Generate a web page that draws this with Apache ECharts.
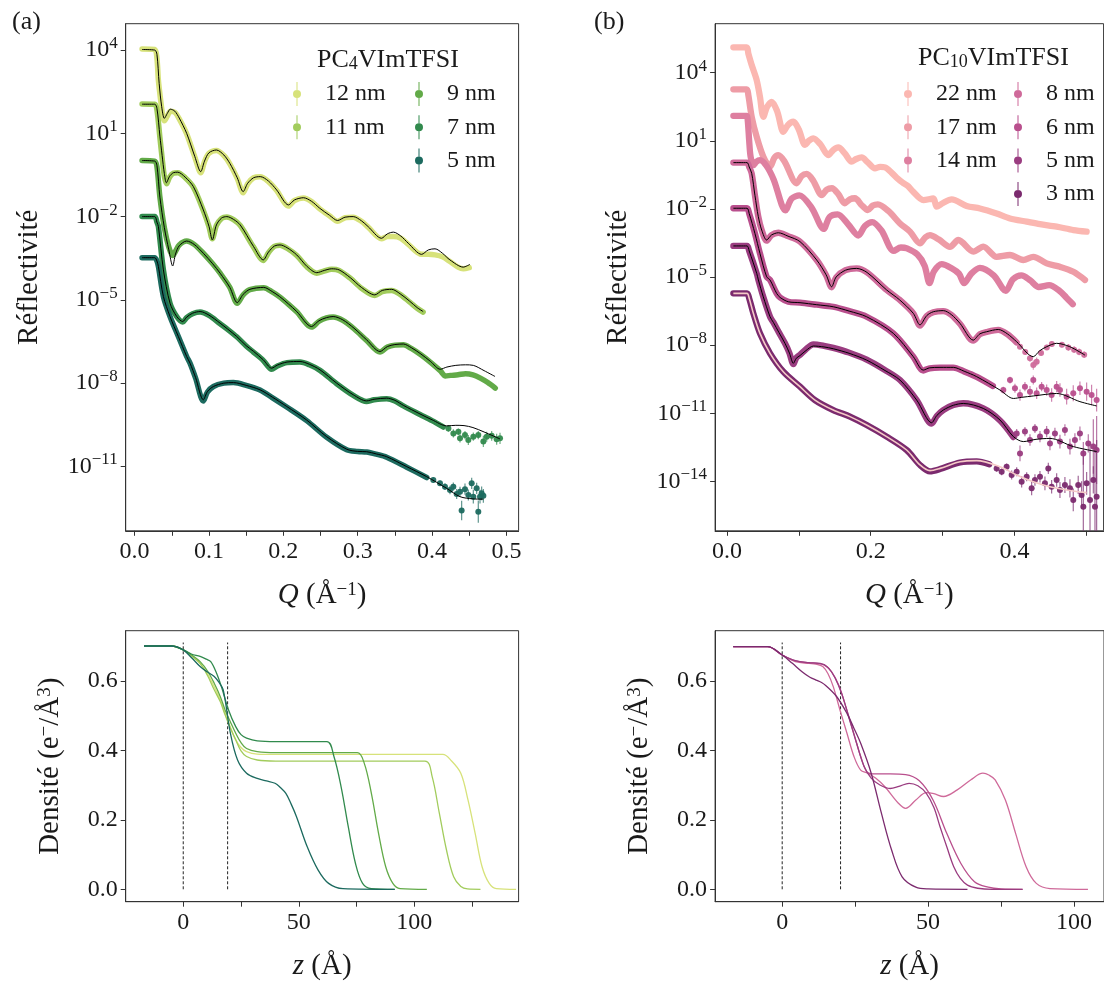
<!DOCTYPE html>
<html><head><meta charset="utf-8">
<script src="https://cdn.jsdelivr.net/npm/echarts@6/dist/echarts.min.js"></script>
<style>html,body{margin:0;padding:0;background:#fff}#c{width:1104px;height:987px}</style>
</head><body><div id="c"></div>
<script>
// ---------- tick labels ----------
const qTicksA = [0,0.05,0.1,0.15,0.2,0.25,0.3,0.35,0.4,0.45,0.5];
const qLabelsA = [0,0.1,0.2,0.3,0.4,0.5];
const qTicksB = [0,0.1,0.2,0.3,0.4,0.5];
const qLabelsB = [0,0.2,0.4];
const rExpA = [-11,-8,-5,-2,1,4];
const rExpB = [-14,-11,-8,-5,-2,1,4];
const zTicks = [0,25,50,75,100,125];
const zLabels = [0,50,100];
const rhoTicks = [0,0.2,0.4,0.6];

// ---------- panel (a) reflectivity : [Q, log10 R] ----------
const a12Data = [[0.010,4.04],[0.027,4.02],[0.030,3.7],[0.032,2.9],[0.035,2.2],[0.038,1.6],[0.040,1.45],[0.044,1.62],[0.048,1.80],[0.054,1.76],[0.060,1.52],[0.070,0.98],[0.081,0.14],[0.089,-0.42],[0.094,-0.02],[0.100,0.28],[0.110,0.38],[0.120,0.20],[0.128,-0.10],[0.138,-0.62],[0.146,-1.14],[0.152,-0.82],[0.160,-0.60],[0.169,-0.56],[0.180,-0.74],[0.191,-1.06],[0.207,-1.62],[0.215,-1.42],[0.227,-1.33],[0.238,-1.46],[0.249,-1.72],[0.262,-1.97],[0.273,-2.17],[0.283,-2.04],[0.294,-2.02],[0.305,-2.17],[0.314,-2.38],[0.332,-2.80],[0.340,-2.72],[0.348,-2.72],[0.358,-2.78],[0.368,-3.00],[0.386,-3.36],[0.395,-3.36],[0.404,-3.38],[0.414,-3.45],[0.424,-3.62],[0.435,-3.82],[0.442,-3.88],[0.450,-3.84]];
const a12Fit = [[0.010,4.02],[0.027,4.00],[0.030,3.85],[0.033,2.80],[0.0364,1.96],[0.040,1.54],[0.044,1.72],[0.048,1.87],[0.054,1.80],[0.060,1.55],[0.070,1.00],[0.081,0.16],[0.0889,-0.38],[0.094,0.00],[0.100,0.30],[0.110,0.40],[0.120,0.22],[0.128,-0.08],[0.138,-0.60],[0.146,-1.10],[0.152,-0.80],[0.160,-0.60],[0.169,-0.56],[0.180,-0.72],[0.191,-1.04],[0.207,-1.58],[0.215,-1.40],[0.227,-1.32],[0.238,-1.45],[0.249,-1.70],[0.262,-1.95],[0.273,-2.14],[0.283,-2.02],[0.294,-2.00],[0.305,-2.15],[0.314,-2.36],[0.332,-2.78],[0.340,-2.62],[0.348,-2.56],[0.358,-2.70],[0.368,-2.96],[0.386,-3.36],[0.395,-3.20],[0.404,-3.16],[0.414,-3.32],[0.424,-3.56],[0.442,-3.82],[0.451,-3.72]];
const a11Data = [[0.010,2.06],[0.027,2.05],[0.030,1.85],[0.034,0.85],[0.037,0.10],[0.040,-0.55],[0.043,-0.82],[0.047,-0.58],[0.052,-0.44],[0.058,-0.42],[0.068,-0.60],[0.079,-0.94],[0.0924,-1.78],[0.100,-2.36],[0.1045,-2.80],[0.110,-2.32],[0.117,-2.06],[0.124,-2.01],[0.133,-2.11],[0.142,-2.32],[0.160,-3.10],[0.173,-3.58],[0.180,-3.30],[0.188,-3.07],[0.1955,-3.03],[0.205,-3.14],[0.218,-3.40],[0.232,-3.82],[0.245,-4.04],[0.255,-3.96],[0.265,-3.90],[0.275,-3.94],[0.290,-4.22],[0.305,-4.58],[0.323,-4.84],[0.333,-4.70],[0.3457,-4.66],[0.357,-4.80],[0.370,-5.08],[0.380,-5.30],[0.388,-5.44]];
const a11Fit = [[0.010,2.05],[0.027,2.05],[0.030,1.90],[0.034,0.90],[0.037,0.20],[0.040,-0.45],[0.0427,-0.78],[0.047,-0.55],[0.052,-0.42],[0.058,-0.40],[0.068,-0.58],[0.079,-0.92],[0.0924,-1.76],[0.100,-2.35],[0.1045,-2.84],[0.110,-2.30],[0.117,-2.05],[0.124,-2.00],[0.133,-2.10],[0.142,-2.30],[0.160,-3.08],[0.173,-3.56],[0.180,-3.28],[0.188,-3.06],[0.1955,-3.02],[0.205,-3.12],[0.218,-3.38],[0.232,-3.80],[0.245,-4.02],[0.255,-3.94],[0.265,-3.88],[0.275,-3.92],[0.290,-4.20],[0.305,-4.55],[0.323,-4.82],[0.333,-4.66],[0.3457,-4.62],[0.357,-4.78],[0.370,-5.05],[0.380,-5.28],[0.388,-5.42]];
const a9Data = [[0.010,0.02],[0.027,0.00],[0.030,-0.20],[0.034,-1.30],[0.040,-2.40],[0.046,-3.10],[0.0512,-3.40],[0.055,-3.25],[0.060,-3.02],[0.070,-2.88],[0.080,-3.00],[0.0924,-3.32],[0.105,-3.70],[0.115,-4.04],[0.128,-4.55],[0.138,-5.12],[0.146,-4.82],[0.155,-4.63],[0.1736,-4.56],[0.185,-4.71],[0.195,-4.89],[0.207,-5.16],[0.218,-5.43],[0.238,-5.98],[0.248,-5.77],[0.258,-5.65],[0.267,-5.62],[0.280,-5.74],[0.295,-6.04],[0.312,-6.46],[0.330,-6.88],[0.340,-6.70],[0.350,-6.63],[0.3614,-6.62],[0.372,-6.75],[0.385,-6.98],[0.398,-7.25],[0.411,-7.55],[0.418,-7.74],[0.425,-7.72],[0.435,-7.70],[0.445,-7.66],[0.455,-7.70],[0.465,-7.82],[0.475,-7.98],[0.485,-8.18]];
const a9Fit = [[0.010,0.02],[0.027,0.00],[0.030,-0.15],[0.034,-1.30],[0.040,-2.40],[0.046,-3.20],[0.0512,-3.78],[0.055,-3.35],[0.060,-3.05],[0.070,-2.88],[0.080,-3.00],[0.0924,-3.32],[0.105,-3.70],[0.115,-4.04],[0.128,-4.55],[0.138,-5.10],[0.146,-4.80],[0.155,-4.62],[0.1736,-4.55],[0.185,-4.70],[0.195,-4.88],[0.207,-5.15],[0.218,-5.42],[0.238,-5.96],[0.248,-5.75],[0.258,-5.64],[0.267,-5.60],[0.280,-5.72],[0.295,-6.02],[0.312,-6.44],[0.330,-6.86],[0.340,-6.68],[0.350,-6.61],[0.3614,-6.59],[0.372,-6.72],[0.385,-6.95],[0.398,-7.22],[0.411,-7.50],[0.420,-7.42],[0.432,-7.36],[0.445,-7.34],[0.4555,-7.36],[0.470,-7.55],[0.4847,-7.76]];
const a7Data = [[0.010,-2.00],[0.027,-2.00],[0.030,-2.20],[0.032,-2.36],[0.0387,-3.92],[0.0476,-5.12],[0.0566,-5.60],[0.0647,-5.80],[0.070,-5.64],[0.078,-5.50],[0.088,-5.44],[0.100,-5.56],[0.115,-5.86],[0.125,-6.06],[0.1373,-6.33],[0.150,-6.66],[0.1597,-6.88],[0.173,-7.18],[0.1843,-7.50],[0.192,-7.38],[0.205,-7.26],[0.2224,-7.24],[0.235,-7.34],[0.2493,-7.54],[0.2717,-8.02],[0.2941,-8.44],[0.312,-8.66],[0.322,-8.60],[0.339,-8.56],[0.350,-8.64],[0.3614,-8.82],[0.3838,-9.13],[0.400,-9.35],[0.415,-9.58]];
const a7Fit = [[0.010,-2.00],[0.027,-2.00],[0.030,-2.20],[0.032,-2.36],[0.0387,-3.92],[0.0476,-5.12],[0.0566,-5.60],[0.0647,-5.78],[0.070,-5.62],[0.078,-5.48],[0.088,-5.42],[0.100,-5.55],[0.115,-5.84],[0.125,-6.05],[0.1373,-6.32],[0.150,-6.65],[0.1597,-6.85],[0.173,-7.16],[0.1843,-7.46],[0.192,-7.35],[0.205,-7.24],[0.2224,-7.22],[0.235,-7.32],[0.2493,-7.52],[0.2717,-8.00],[0.2941,-8.42],[0.312,-8.64],[0.322,-8.58],[0.339,-8.54],[0.350,-8.62],[0.3614,-8.80],[0.3838,-9.11],[0.400,-9.32],[0.4197,-9.54],[0.432,-9.52],[0.443,-9.53],[0.455,-9.60],[0.470,-9.76],[0.4914,-10.01]];
const a7Noise = [[0.422,-9.63,0.12],[0.4287,-9.81,0.15],[0.4354,-9.75,0.12],[0.4376,-9.99,0.15],[0.4443,-9.87,0.15],[0.4488,-10.05,0.18],[0.4555,-9.93,0.15],[0.4622,-9.87,0.15],[0.469,-10.10,0.2],[0.4735,-9.93,0.18],[0.4802,-9.90,0.18],[0.4869,-10.02,0.2],[0.4914,-9.99,0.2]];
const a5Data = [[0.010,-3.48],[0.027,-3.48],[0.030,-3.60],[0.032,-3.80],[0.0387,-4.88],[0.0476,-5.60],[0.0588,-6.32],[0.070,-7.04],[0.0745,-7.28],[0.082,-7.82],[0.0924,-8.64],[0.098,-8.32],[0.106,-8.12],[0.120,-8.00],[0.1328,-7.98],[0.150,-8.08],[0.1686,-8.25],[0.185,-8.52],[0.2045,-8.86],[0.2314,-9.35],[0.2583,-9.95],[0.2852,-10.40],[0.300,-10.46],[0.312,-10.48],[0.325,-10.56],[0.339,-10.67],[0.366,-11.03],[0.3928,-11.40]];
const a5Fit = [[0.010,-3.48],[0.027,-3.48],[0.030,-3.60],[0.032,-3.80],[0.0387,-4.88],[0.0476,-5.60],[0.0588,-6.32],[0.070,-7.04],[0.0745,-7.28],[0.082,-7.80],[0.0924,-8.60],[0.098,-8.30],[0.106,-8.12],[0.120,-8.00],[0.1328,-7.98],[0.150,-8.08],[0.1686,-8.24],[0.185,-8.50],[0.2045,-8.84],[0.2314,-9.33],[0.2583,-9.93],[0.2852,-10.38],[0.300,-10.46],[0.312,-10.47],[0.325,-10.55],[0.339,-10.65],[0.366,-11.01],[0.3928,-11.37],[0.4197,-11.79],[0.4376,-12.09],[0.455,-12.17],[0.469,-12.18]];
const a5Noise = [[0.4017,-11.49,0.1],[0.4107,-11.61,0.1],[0.4174,-11.73,0.12],[0.4241,-11.85,0.15],[0.4286,-11.73,0.15],[0.4331,-11.99,0.18],[0.4376,-11.91,0.18],[0.4398,-12.59,0.35],[0.4443,-11.82,0.2],[0.4488,-12.03,0.2],[0.4533,-11.61,0.2],[0.4555,-12.09,0.25],[0.4600,-11.79,0.2],[0.4622,-12.63,0.4],[0.4645,-12.09,0.25],[0.4667,-11.97,0.25],[0.469,-12.06,0.25]];

// ---------- panel (b) reflectivity ----------
const b22Data = [[0.009,5.12],[0.0275,5.12],[0.0298,4.85],[0.0345,4.34],[0.0414,3.68],[0.046,2.94],[0.0507,2.06],[0.056,2.50],[0.0623,2.72],[0.070,2.30],[0.0786,1.40],[0.085,1.70],[0.0924,1.84],[0.100,1.50],[0.1087,0.82],[0.114,1.00],[0.1202,1.11],[0.130,0.85],[0.1411,0.37],[0.148,0.60],[0.155,0.71],[0.164,0.45],[0.1735,0.08],[0.180,0.20],[0.1874,0.27],[0.196,0.05],[0.206,-0.21],[0.213,-0.15],[0.220,-0.17],[0.229,-0.40],[0.238,-0.68],[0.245,-0.85],[0.252,-1.00],[0.259,-1.24],[0.2732,-1.61],[0.2872,-1.54],[0.2918,-1.90],[0.300,-1.75],[0.3127,-1.58],[0.3335,-1.87],[0.352,-1.98],[0.3752,-2.20],[0.3938,-2.42],[0.417,-2.56],[0.4355,-2.67],[0.4587,-2.78],[0.482,-2.93],[0.5004,-3.00]];
const b17Data = [[0.009,3.27],[0.0275,3.27],[0.0298,3.02],[0.0345,2.06],[0.0414,1.18],[0.0507,0.30],[0.060,-0.14],[0.066,0.25],[0.0715,0.37],[0.080,0.10],[0.097,-0.87],[0.104,-0.55],[0.111,-0.46],[0.120,-0.75],[0.132,-1.39],[0.139,-1.15],[0.146,-1.09],[0.155,-1.35],[0.164,-1.75],[0.171,-1.58],[0.178,-1.53],[0.188,-1.85],[0.196,-2.05],[0.203,-1.85],[0.210,-1.80],[0.225,-2.10],[0.2408,-2.64],[0.2547,-3.00],[0.2686,-3.52],[0.276,-3.25],[0.2825,-3.15],[0.295,-3.35],[0.3103,-3.67],[0.322,-3.37],[0.3428,-3.88],[0.3567,-3.66],[0.3752,-4.11],[0.3938,-4.03],[0.4123,-4.25],[0.4262,-4.11],[0.4448,-4.40],[0.4633,-4.55],[0.482,-4.77],[0.4981,-5.13]];
const b14Data = [[0.009,2.10],[0.0275,2.10],[0.029,1.90],[0.031,1.00],[0.033,0.30],[0.037,-0.07],[0.041,0.08],[0.046,0.15],[0.055,-0.10],[0.065,-0.70],[0.0815,-2.06],[0.090,-1.55],[0.1008,-1.40],[0.118,-1.95],[0.1346,-2.88],[0.143,-2.35],[0.154,-2.24],[0.168,-2.65],[0.183,-3.17],[0.192,-2.75],[0.2022,-2.58],[0.215,-2.95],[0.232,-3.85],[0.242,-3.70],[0.2505,-3.74],[0.265,-4.01],[0.275,-4.50],[0.2818,-5.27],[0.288,-4.75],[0.2988,-4.43],[0.312,-4.60],[0.3228,-4.85],[0.330,-5.27],[0.340,-4.85],[0.3519,-4.60],[0.3711,-4.93],[0.388,-5.61],[0.398,-5.10],[0.4097,-4.93],[0.422,-5.15],[0.4338,-5.44],[0.4483,-5.36],[0.4627,-5.61],[0.472,-5.90],[0.4812,-6.20]];
const b8Data = [[0.009,0.04],[0.028,0.04],[0.031,-0.15],[0.0345,-0.43],[0.039,-1.40],[0.0437,-2.34],[0.0484,-2.93],[0.0553,-3.40],[0.062,-3.15],[0.0716,-3.05],[0.085,-3.20],[0.1017,-3.44],[0.1249,-4.25],[0.138,-4.92],[0.1457,-5.45],[0.152,-5.02],[0.165,-4.70],[0.1805,-4.62],[0.195,-4.80],[0.2222,-5.57],[0.240,-6.00],[0.2593,-6.60],[0.2686,-7.14],[0.278,-6.72],[0.2871,-6.55],[0.301,-6.50],[0.312,-6.66],[0.3242,-7.06],[0.3427,-7.80],[0.352,-7.52],[0.3613,-7.42],[0.3775,-7.33],[0.390,-7.52],[0.403,-7.88]];
const b8Fit = [[0.009,0.04],[0.028,0.04],[0.031,-0.15],[0.0345,-0.43],[0.039,-1.40],[0.0437,-2.34],[0.0484,-2.93],[0.0553,-3.37],[0.062,-3.15],[0.0716,-3.05],[0.085,-3.20],[0.1017,-3.44],[0.1249,-4.25],[0.138,-4.90],[0.1457,-5.43],[0.152,-5.00],[0.165,-4.70],[0.1805,-4.62],[0.195,-4.80],[0.2222,-5.57],[0.240,-6.00],[0.2593,-6.60],[0.2686,-7.11],[0.278,-6.70],[0.2871,-6.53],[0.301,-6.48],[0.312,-6.65],[0.3242,-7.04],[0.3427,-7.78],[0.352,-7.50],[0.3613,-7.41],[0.3775,-7.31],[0.390,-7.50],[0.403,-7.85],[0.4262,-8.51],[0.435,-8.25],[0.4448,-8.07],[0.4587,-7.92],[0.477,-8.07],[0.4981,-8.44]];
const b8Noise = [[0.4077,-8.07,0.1],[0.415,-8.30,0.12],[0.4216,-8.58,0.15],[0.4262,-8.88,0.2],[0.4309,-8.73,0.18],[0.437,-8.35,0.12],[0.445,-8.10,0.12],[0.452,-7.95,0.12],[0.466,-7.98,0.12],[0.475,-8.10,0.15],[0.483,-8.20,0.15],[0.490,-8.30,0.15],[0.497,-8.42,0.15]];
const b6Data = [[0.009,-1.97],[0.028,-1.97],[0.031,-2.20],[0.039,-3.08],[0.046,-3.96],[0.0553,-4.99],[0.060,-5.13],[0.0692,-5.72],[0.074,-5.90],[0.0854,-6.09],[0.1017,-6.13],[0.125,-6.22],[0.148,-6.31],[0.170,-6.50],[0.1944,-6.75],[0.2315,-7.48],[0.2593,-8.51],[0.2732,-9.12],[0.282,-9.02],[0.2964,-8.99],[0.315,-8.99],[0.330,-9.16],[0.3475,-9.40],[0.370,-9.80]];
const b6Fit = [[0.009,-1.97],[0.028,-1.97],[0.031,-2.20],[0.039,-3.08],[0.046,-3.96],[0.0553,-4.99],[0.060,-5.13],[0.0692,-5.72],[0.074,-5.90],[0.0854,-6.09],[0.1017,-6.13],[0.125,-6.22],[0.148,-6.31],[0.170,-6.50],[0.1944,-6.75],[0.2315,-7.48],[0.2593,-8.51],[0.2732,-9.10],[0.282,-9.00],[0.2964,-8.98],[0.315,-8.98],[0.330,-9.15],[0.3475,-9.39],[0.3799,-9.98],[0.3985,-10.35],[0.410,-10.30],[0.4262,-10.24],[0.4587,-10.13],[0.4911,-10.49],[0.5143,-10.68]];
const b6Noise = [[0.3845,-9.98,0.15],[0.3938,-9.54,0.15],[0.4007,-9.90,0.2],[0.4077,-10.20,0.25],[0.4146,-9.83,0.2],[0.4216,-10.05,0.25],[0.4262,-9.54,0.2],[0.4309,-10.12,0.25],[0.4378,-9.83,0.2],[0.4448,-9.98,0.25],[0.4517,-10.20,0.3],[0.4587,-9.83,0.25],[0.4633,-9.98,0.3],[0.4726,-10.27,0.35],[0.4818,-10.12,0.35],[0.4911,-9.90,0.3],[0.5004,-10.05,0.4],[0.5073,-10.20,0.45],[0.5143,-10.42,0.5]];
const b5Data = [[0.009,-3.63],[0.028,-3.63],[0.031,-3.85],[0.0415,-4.84],[0.0438,-5.13],[0.0506,-5.87],[0.060,-6.75],[0.0647,-7.00],[0.0725,-7.45],[0.0808,-7.92],[0.087,-8.35],[0.0925,-8.84],[0.0965,-8.56],[0.1017,-8.43],[0.110,-8.18],[0.1203,-7.97],[0.135,-8.03],[0.148,-8.12],[0.170,-8.33],[0.1944,-8.64],[0.220,-9.10],[0.2408,-9.54],[0.264,-10.42],[0.2848,-11.46],[0.292,-11.12],[0.301,-10.86],[0.315,-10.64],[0.3288,-10.56],[0.3567,-10.79],[0.3799,-11.32],[0.3985,-12.05]];
const b5Fit = [[0.009,-3.63],[0.028,-3.63],[0.031,-3.85],[0.0415,-4.84],[0.0438,-5.13],[0.0506,-5.87],[0.060,-6.75],[0.0647,-7.00],[0.0725,-7.45],[0.0808,-7.92],[0.087,-8.35],[0.0925,-8.80],[0.0965,-8.58],[0.1017,-8.46],[0.110,-8.24],[0.1203,-8.04],[0.135,-8.08],[0.148,-8.16],[0.170,-8.36],[0.1944,-8.66],[0.220,-9.12],[0.2408,-9.54],[0.264,-10.42],[0.2848,-11.42],[0.292,-11.10],[0.301,-10.86],[0.315,-10.65],[0.3288,-10.57],[0.3567,-10.79],[0.3799,-11.30],[0.3985,-12.03],[0.4123,-12.25],[0.430,-12.15],[0.4494,-12.11],[0.4818,-12.47],[0.5143,-12.69]];
const b5Noise = [[0.4031,-11.89,0.2],[0.4077,-12.77,0.35],[0.4146,-11.81,0.2],[0.4216,-12.18,0.25],[0.4285,-11.67,0.2],[0.4355,-12.03,0.25],[0.4448,-11.81,0.25],[0.4494,-12.33,0.3],[0.4563,-11.89,0.25],[0.4633,-12.25,0.3],[0.4702,-11.74,0.25],[0.4772,-12.47,0.35],[0.4841,-12.18,0.3],[0.4911,-11.89,0.3],[0.4958,-12.77,0.5],[0.5027,-12.33,0.4],[0.5097,-12.47,1.2],[0.5143,-12.62,1.5]];
const b3Data = [[0.009,-5.72],[0.028,-5.72],[0.031,-5.94],[0.0368,-6.60],[0.046,-7.48],[0.060,-8.36],[0.0785,-9.17],[0.1017,-9.83],[0.1225,-10.42],[0.148,-10.86],[0.1712,-11.15],[0.1944,-11.52],[0.2222,-12.03],[0.250,-12.62],[0.2686,-13.28],[0.2825,-13.56],[0.2964,-13.46],[0.3242,-13.17],[0.3475,-13.12],[0.365,-13.25]];
const b3Fit = [[0.009,-5.72],[0.028,-5.72],[0.031,-5.94],[0.0368,-6.60],[0.046,-7.48],[0.060,-8.36],[0.0785,-9.17],[0.1017,-9.83],[0.1225,-10.42],[0.148,-10.86],[0.1712,-11.15],[0.1944,-11.52],[0.2222,-12.03],[0.250,-12.62],[0.2686,-13.28],[0.2825,-13.53],[0.2964,-13.43],[0.3242,-13.14],[0.3475,-13.09],[0.3799,-13.36],[0.4031,-13.72],[0.4262,-14.02],[0.4494,-14.24],[0.4726,-14.38],[0.5004,-14.50]];
const b3Noise = [[0.3752,-13.43,0.15],[0.3822,-13.58,0.15],[0.3891,-13.36,0.15],[0.3961,-13.72,0.2],[0.4031,-13.58,0.2],[0.4100,-14.02,0.25],[0.4170,-13.80,0.2],[0.4239,-14.31,0.3],[0.4285,-13.94,0.25],[0.4355,-13.80,0.25],[0.4424,-14.09,0.3],[0.4471,-13.43,0.25],[0.4517,-14.24,0.3],[0.4587,-13.94,0.3],[0.4633,-14.38,0.35],[0.4702,-14.16,0.35],[0.4772,-14.31,0.4],[0.4818,-14.82,0.5],[0.4887,-14.16,0.4],[0.4934,-14.60,0.6],[0.4958,-15.12,2.5],[0.5004,-14.09,0.5],[0.5051,-14.82,2.5],[0.5097,-13.94,0.6],[0.512,-15.12,2.5],[0.5143,-14.68,2.5]];

// ---------- density profiles : [z (Å), rho] ----------
const a12Rho = [[-17,0.70],[-5,0.70],[0,0.689],[3.5,0.672],[7.3,0.650],[10.5,0.620],[13.4,0.583],[16,0.545],[18.1,0.506],[20.5,0.465],[22.7,0.430],[25,0.408],[27.4,0.396],[32,0.389],[40,0.388],[112.3,0.388],[116,0.370],[120.1,0.334],[123.2,0.257],[126.3,0.161],[129.3,0.065],[132.4,0.017],[135.5,0.002],[144,0.0]];
const a11Rho = [[-17,0.70],[-5,0.70],[0,0.689],[3.5,0.672],[7.3,0.650],[10.5,0.615],[13.4,0.574],[16,0.540],[18.1,0.502],[20.5,0.462],[22.7,0.430],[25,0.398],[27.4,0.382],[32,0.372],[40,0.369],[104.6,0.369],[107.7,0.324],[110.8,0.219],[113.9,0.113],[117,0.036],[120.1,0.008],[123,0.001],[128.6,0.0]];
const a9Rho = [[-17,0.70],[-5,0.70],[0,0.689],[3.5,0.675],[7.3,0.655],[10.5,0.628],[13.4,0.593],[16,0.555],[18.1,0.516],[20.5,0.480],[22.7,0.449],[25,0.422],[27.4,0.405],[32,0.396],[40,0.393],[75.3,0.393],[78.3,0.363],[81.4,0.276],[84.5,0.161],[87.6,0.065],[90.7,0.017],[93.8,0.002],[105.4,0.0]];
const a7Rho = [[-17,0.70],[-5,0.70],[0,0.689],[3.5,0.677],[7.3,0.670],[10,0.662],[11.9,0.655],[14.2,0.625],[16.5,0.583],[19.6,0.516],[22.7,0.468],[25,0.445],[27.4,0.435],[32,0.427],[40,0.425],[62.1,0.425],[65.2,0.382],[68.3,0.295],[71.4,0.180],[74.5,0.075],[77.6,0.017],[81.4,0.002],[91.5,0.0]];
const a5Rho = [[-17,0.70],[-5,0.70],[0,0.689],[3.5,0.667],[7.3,0.641],[10.5,0.625],[13.4,0.612],[15.5,0.595],[17.3,0.574],[20.4,0.449],[23.5,0.372],[27.4,0.334],[32,0.319],[36,0.312],[39.7,0.305],[42,0.293],[44.4,0.276],[46.7,0.245],[49,0.209],[53.6,0.123],[58.3,0.056],[62.9,0.017],[69.1,0.002],[91.5,0.0]];
const b8Rho = [[-16.8,0.698],[-5,0.698],[0,0.674],[4.5,0.655],[9.2,0.650],[11.5,0.648],[13.9,0.641],[15.7,0.620],[17.5,0.583],[19.8,0.516],[22.2,0.449],[24.6,0.382],[26.9,0.343],[29.3,0.334],[32,0.320],[35.2,0.295],[39.9,0.247],[42.3,0.233],[45.8,0.257],[49.4,0.278],[52,0.275],[55.3,0.267],[60,0.286],[64.7,0.315],[68.8,0.334],[71,0.328],[73,0.315],[76.5,0.257],[80,0.161],[83.6,0.065],[87.1,0.017],[91.8,0.002],[104.8,0.0]];
const b6Rho = [[-16.8,0.698],[-5,0.698],[0,0.674],[4.5,0.657],[9,0.652],[12,0.650],[14.5,0.645],[17,0.625],[19.5,0.585],[22,0.520],[24.5,0.450],[27,0.380],[29.3,0.336],[32,0.332],[37,0.332],[42.3,0.330],[47,0.312],[51.7,0.257],[56.4,0.161],[61.2,0.075],[65.9,0.022],[70.6,0.006],[75,0.001],[82.4,0.0]];
const b5Rho = [[-16.8,0.698],[-5,0.698],[0,0.674],[4.5,0.658],[9,0.652],[13,0.650],[15.5,0.640],[18,0.610],[20.5,0.560],[23,0.490],[25.5,0.420],[28,0.355],[30.5,0.320],[33.5,0.300],[37,0.290],[40,0.296],[43.5,0.305],[46.5,0.298],[49.4,0.276],[52,0.235],[54.1,0.180],[56.5,0.120],[58.8,0.065],[61,0.032],[63.5,0.012],[67,0.003],[72,0.0],[82.4,0.0]];
const b3Rho = [[-16.8,0.698],[-5,0.698],[0,0.674],[3.5,0.650],[6.8,0.626],[9.5,0.610],[11.6,0.602],[13.5,0.595],[15.1,0.585],[18.7,0.554],[22.2,0.506],[24.5,0.465],[26.9,0.420],[30.5,0.334],[34,0.219],[37.5,0.113],[41.1,0.036],[45.8,0.006],[50,0.001],[63.5,0.0]];
const aDividers = [0, 19.2];
const bDividers = [0, 20.0];
const dividerTop = 0.71;
const aLayerText = [[-11.3,0.133,'Si'],[10.3,0.133,'SiO{sub|2}'],[33.2,0.133,'PIL']];
const bLayerText = [[-9.5,0.133,'Si'],[9.8,0.133,'SiO{sub|2}'],[28.0,0.133,'PIL']];

// ---------- colours ----------
const colA = {'12 nm':'#d7e27a','11 nm':'#a2cc5c','9 nm':'#62aa48','7 nm':'#318a4d','5 nm':'#1c6a5f'};
const colB = {'22 nm':'#fbb7b1','17 nm':'#ee9ca6','14 nm':'#de7fa0','8 nm':'#cf6a9a','6 nm':'#b94f8d','5 nm ':'#9a3c80','3 nm':'#7b2a6e'};

// ---------- helpers ----------
const FONT = "'Liberation Serif','DejaVu Serif',serif";
const TXT = '#1a1a1a', AX = '#333';
const P = arr => arr.map(d => [d[0], Math.pow(10, d[1])]);
const sup = e => (e < 0 ? '\u2212' + (-e) : '' + e);
const series = [];
function dataLine(name, arr, color, gi, w) {
  series.push({type:'line', name, xAxisIndex:gi, yAxisIndex:gi, data:P(arr), color, showSymbol:false, smooth:0.3,
    lineStyle:{width:w, color, cap:'round', join:'round'}, z:2, silent:true});
}
function fitLine(arr, color, gi, w) {
  series.push({type:'line', name:'fit', xAxisIndex:gi, yAxisIndex:gi, data:P(arr), showSymbol:false, smooth:0.3,
    lineStyle:{width:w, color}, itemStyle:{color}, z:5, silent:true});
}
function noise(arr, color, gi) {
  series.push({type:'custom', name:'err', xAxisIndex:gi, yAxisIndex:gi, clip:true, silent:true, z:3,
    data: arr.map(d => [d[0], Math.pow(10, d[1] + d[2]), Math.pow(10, d[1] - d[2])]),
    renderItem: (p, api) => {
      const a = api.coord([api.value(0), api.value(1)]), b = api.coord([api.value(0), api.value(2)]);
      return {type:'line', shape:{x1:a[0], y1:a[1], x2:b[0], y2:b[1]}, style:{stroke:color, lineWidth:1.2, opacity:0.7}};
    }});
  series.push({type:'scatter', name:'pts', xAxisIndex:gi, yAxisIndex:gi, data:P(arr), symbolSize:6, itemStyle:{color, opacity:0.95}, z:3, silent:true});
}
function rhoLine(name, arr, color, gi) {
  series.push({type:'line', name:name + ' rho', xAxisIndex:gi, yAxisIndex:gi, data:arr, showSymbol:false, smooth:0.35,
    lineStyle:{width:1.3, color}, z:2, silent:true});
}
function dividers(zs, gi) {
  zs.forEach(z => series.push({type:'line', name:'div', xAxisIndex:gi, yAxisIndex:gi, data:[[z,0],[z,dividerTop]], showSymbol:false,
    lineStyle:{width:1, color:'#222', type:[3,2]}, z:1, silent:true}));
}
function layerText(arr, gi) {
  series.push({type:'scatter', name:'lbl', xAxisIndex:gi, yAxisIndex:gi, data:arr, symbolSize:1, itemStyle:{opacity:0}, silent:true,
    label:{show:true, position:'inside', formatter:p => p.data[2], fontFamily:FONT, fontSize:20, color:TXT,
      rich:{sub:{fontFamily:FONT, fontSize:14, verticalAlign:'bottom', lineHeight:12}}}});
}

// panel (a)
const WA = 5.5, WB = 6.3;
dataLine('12 nm', a12Data, colA['12 nm'], 0, WA); fitLine(a12Fit, '#000', 0, 1);
dataLine('11 nm', a11Data, colA['11 nm'], 0, WA); fitLine(a11Fit, '#000', 0, 1);
dataLine('9 nm', a9Data, colA['9 nm'], 0, WA); fitLine(a9Fit, '#000', 0, 1);
dataLine('7 nm', a7Data, colA['7 nm'], 0, WA); noise(a7Noise, colA['7 nm'], 0); fitLine(a7Fit, '#000', 0, 1);
dataLine('5 nm', a5Data, colA['5 nm'], 0, WA); noise(a5Noise, colA['5 nm'], 0); fitLine(a5Fit, '#000', 0, 1);
// panel (b)
dataLine('22 nm', b22Data, colB['22 nm'], 1, WB);
dataLine('17 nm', b17Data, colB['17 nm'], 1, WB);
dataLine('14 nm', b14Data, colB['14 nm'], 1, WB);
dataLine('8 nm', b8Data, colB['8 nm'], 1, WB); noise(b8Noise, colB['8 nm'], 1); fitLine(b8Fit, '#000', 1, 1);
dataLine('6 nm', b6Data, colB['6 nm'], 1, WB); noise(b6Noise, colB['6 nm'], 1); fitLine(b6Fit, '#000', 1, 1);
dataLine('5 nm ', b5Data, colB['5 nm '], 1, WB); noise(b5Noise, colB['5 nm '], 1); fitLine(b5Fit, '#000', 1, 1);
dataLine('3 nm', b3Data, colB['3 nm'], 1, WB); noise(b3Noise, colB['3 nm'], 1); fitLine(b3Fit, '#f5c9c6', 1, 1.6);
// density (a)
dividers(aDividers, 2); layerText(aLayerText, 2);
rhoLine('12', a12Rho, colA['12 nm'], 2); rhoLine('11', a11Rho, colA['11 nm'], 2); rhoLine('9', a9Rho, colA['9 nm'], 2);
rhoLine('7', a7Rho, colA['7 nm'], 2); rhoLine('5', a5Rho, colA['5 nm'], 2);
// density (b)
dividers(bDividers, 3); layerText(bLayerText, 3);
rhoLine('8', b8Rho, colB['8 nm'], 3); rhoLine('6', b6Rho, colB['6 nm'], 3); rhoLine('5', b5Rho, colB['5 nm '], 3); rhoLine('3', b3Rho, colB['3 nm'], 3);

// ---------- axes ----------
const richSup = {
  b:{fontFamily:FONT, fontSize:24, color:TXT, lineHeight:30},
  s:{fontFamily:FONT, fontSize:17, color:TXT, verticalAlign:'top', lineHeight:16}
};
const nameRich = {
  i:{fontFamily:FONT, fontSize:29, fontStyle:'italic', color:TXT},
  s:{fontFamily:FONT, fontSize:19, color:TXT, verticalAlign:'top', lineHeight:18}
};
function xAx(gi, min, max, ticks, labels, fmt, name, gap) {
  return {type:'value', gridIndex:gi, min, max,
    axisLine:{show:true, onZero:false, lineStyle:{color:AX, width:1}},
    axisTick:{show:true, customValues:ticks, length:5, lineStyle:{color:AX}},
    axisLabel:{customValues:labels, formatter:fmt, fontFamily:FONT, fontSize:24, color:TXT, margin:9},
    splitLine:{show:false}, name, nameLocation:'middle', nameGap:gap,
    nameTextStyle:{fontFamily:FONT, fontSize:29, color:TXT, rich:nameRich}};
}
function yLog(gi, lmin, lmax, exps) {
  const vals = exps.map(e => Math.pow(10, e));
  return {type:'log', logBase:10, gridIndex:gi, min:Math.pow(10, lmin), max:Math.pow(10, lmax),
    axisLine:{show:true, onZero:false, lineStyle:{color:AX}},
    axisTick:{show:true, customValues:vals, length:5, lineStyle:{color:AX}},
    axisLabel:{customValues:vals, margin:8, formatter:v => '{b|10}{s|' + sup(Math.round(Math.log10(v))) + '}', rich:richSup},
    minorTick:{show:false}, splitLine:{show:false},
    name:'R\u00e9flectivit\u00e9', nameLocation:'middle', nameRotate:90, nameGap:82,
    nameTextStyle:{fontFamily:FONT, fontSize:29, color:TXT}};
}
function yRho(gi) {
  return {type:'value', gridIndex:gi, min:-0.0357, max:0.744,
    axisLine:{show:true, onZero:false, lineStyle:{color:AX}},
    axisTick:{show:true, customValues:rhoTicks, length:5, lineStyle:{color:AX}},
    axisLabel:{customValues:rhoTicks, formatter:v => v.toFixed(1), fontFamily:FONT, fontSize:24, color:TXT, margin:8},
    splitLine:{show:false},
    name:'Densit\u00e9 (e{s|\u2212}/\u00c5{s|3})', nameLocation:'middle', nameRotate:90, nameGap:61,
    nameTextStyle:{fontFamily:FONT, fontSize:29, color:TXT, rich:nameRich}};
}
const qName = '{i|Q} (\u00c5{s|\u22121})';
const zName = '{i|z} (\u00c5)';

const ICON = 'path://M3.5,0h1v24h-1z M8,12a4,4 0 1,1 -8,0a4,4 0 1,1 8,0z';
function leg(names, left, top) {
  return {data:names, left, top, orient:'vertical', icon:ICON, itemWidth:8, itemHeight:24, itemGap:9.3, selectedMode:false,
    textStyle:{fontFamily:FONT, fontSize:24, color:TXT, padding:[0,0,0,19], lineHeight:24}, itemStyle:{borderWidth:0}};
}

const option = {
  animation:false, backgroundColor:'#fff',
  title:[
    {text:'(a)', left:7, top:4, textStyle:{fontFamily:FONT, fontSize:26, fontWeight:'normal', color:TXT}},
    {text:'(b)', left:589, top:4, textStyle:{fontFamily:FONT, fontSize:26, fontWeight:'normal', color:TXT}},
    {text:'PC{s|4}VImTFSI', left:312, top:42, textStyle:{fontFamily:FONT, fontSize:26, fontWeight:'normal', color:TXT,
      rich:{s:{fontFamily:FONT, fontSize:18, color:TXT, verticalAlign:'bottom', lineHeight:14}}}},
    {text:'PC{s|10}VImTFSI', left:913, top:40, textStyle:{fontFamily:FONT, fontSize:26, fontWeight:'normal', color:TXT,
      rich:{s:{fontFamily:FONT, fontSize:18, color:TXT, verticalAlign:'bottom', lineHeight:14}}}}
  ],
  legend:[
    leg(['12 nm','11 nm'], 288, 77),
    leg(['9 nm','7 nm','5 nm'], 410, 77),
    leg(['22 nm','17 nm','14 nm'], 899, 77),
    leg(['8 nm','6 nm','5 nm ','3 nm'], 1009, 77)
  ],
  grid:[
    {left:125.7, top:23.7, width:392.9, height:507.1, show:true, borderColor:AX, borderWidth:1},
    {left:715.1, top:23.7, width:388.5, height:507.1, show:true, borderColor:AX, borderWidth:1},
    {left:125.7, top:630.7, width:392.9, height:271, show:true, borderColor:AX, borderWidth:1},
    {left:715.1, top:630.7, width:391.8, height:271, show:true, borderColor:AX, borderWidth:1}
  ],
  xAxis:[
    xAx(0, -0.012, 0.5164, qTicksA, qLabelsA, v => v.toFixed(1), qName, 50),
    xAx(1, -0.0164, 0.524, qTicksB, qLabelsB, v => v.toFixed(1), qName, 50),
    xAx(2, -24.9, 145.1, zTicks, zLabels, v => '' + v, zName, 50),
    xAx(3, -23.0, 110.3, zTicks, zLabels, v => '' + v, zName, 50)
  ],
  yAxis:[ yLog(0, -13.32, 4.95, rExpA), yLog(1, -16.18, 6.16, rExpB), yRho(2), yRho(3) ],
  series
};
const chart = echarts.init(document.getElementById('c'), null, {renderer:'canvas'});
chart.setOption(option);
</script></body></html>
